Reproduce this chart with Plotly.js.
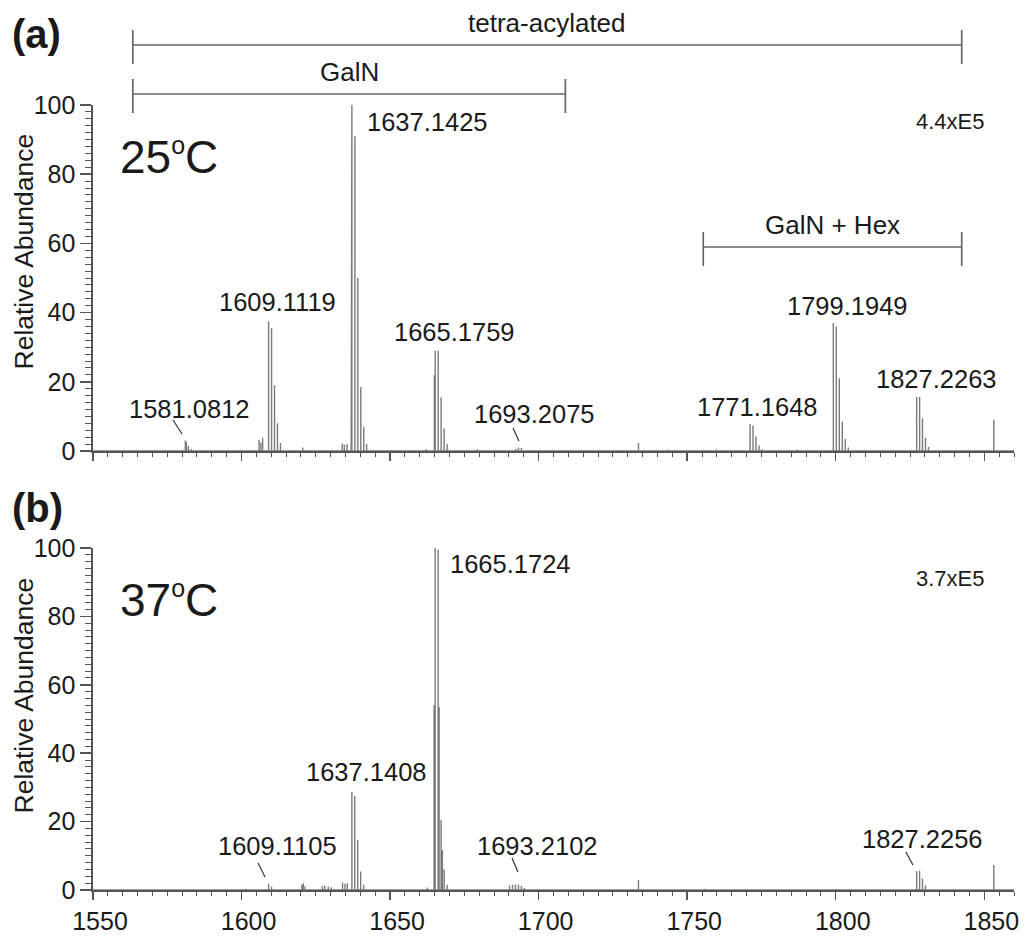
<!DOCTYPE html>
<html>
<head>
<meta charset="utf-8">
<script src="https://cdn.plot.ly/plotly-3.0.1.min.js"></script>
<style>html,body{margin:0;padding:0;background:#fff;}#chart{width:1025px;height:937px;}</style>
</head>
<body>
<div id="chart"></div>
<script>
// ---------------- DATA ----------------
// Panel (a) 25 °C : m/z of each stick and its relative abundance (%)
const mzA = [1581.08, 1581.4, 1582.1, 1583.1,
  1605.9, 1606.5, 1607.1,
  1609.11, 1610.11, 1611.1, 1612.1, 1613.1,
  1620.6,
  1633.9, 1634.6, 1635.5,
  1636.9, 1637.14, 1638.14, 1639.14, 1640.14, 1641.14, 1642.1,
  1662.2,
  1664.9, 1665.18, 1666.18, 1667.18, 1668.18, 1669.2,
  1679.4,
  1692.3, 1693.21, 1694.2,
  1733.6, 1743.6, 1760.0,
  1771.16, 1772.16, 1773.16, 1774.2, 1775.2,
  1787.0,
  1799.19, 1800.19, 1801.2, 1802.2, 1803.2, 1804.2,
  1827.23, 1828.23, 1829.2, 1830.2, 1831.2,
  1853.2];
const intA = [3.0, 2.6, 1.5, 0.6,
  3.2, 2.4, 3.8,
  37.5, 35.5, 19, 8, 2.3,
  1.0,
  2.2, 1.8, 2.0,
  73, 100, 91, 50, 18.5, 7, 2,
  0.6,
  22, 29, 29, 15.5, 6.5, 2,
  0.5,
  0.6, 1.0, 0.9,
  2.3, 0.4, 0.4,
  7.7, 7.4, 4.2, 1.6, 0.5,
  0.4,
  37, 36, 21, 8.5, 3.5, 1,
  15.6, 15.6, 9.5, 3.8, 1.2,
  9.0];

// Panel (b) 37 °C
const mzB = [1601.5,
  1609.11, 1610.1,
  1620.3, 1620.8, 1621.4,
  1627.2, 1628.0, 1629.2, 1630.2,
  1634.0, 1634.8, 1635.6,
  1637.14, 1638.1, 1639.1, 1640.1, 1641.1,
  1662.5,
  1664.8, 1665.17, 1666.17, 1666.5, 1667.17, 1667.6, 1668.2, 1669.2,
  1690.2, 1691.2, 1692.2, 1693.21, 1694.2, 1695.2,
  1733.6, 1756.0, 1800.0,
  1827.23, 1828.23, 1829.2, 1830.2,
  1853.2];
const intB = [0.4,
  1.8, 1.0,
  1.5, 2.0, 1.0,
  1.2, 1.3, 1.0, 0.8,
  2.2, 1.8, 2.0,
  28.7, 27.5, 14.6, 5.4, 1.5,
  0.7,
  54, 100, 99.5, 53.5, 20.5, 11.7, 6, 1.5,
  1.3, 1.5, 1.6, 1.6, 1.2, 0.6,
  2.9, 0.4, 0.3,
  5.5, 5.6, 3.3, 1.4,
  7.3];

// peak labels (m/z)
const labelsA = ['1581.0812', '1609.1119', '1637.1425', '1665.1759', '1693.2075', '1771.1648', '1799.1949', '1827.2263'];
const labelsB = ['1609.1105', '1637.1408', '1665.1724', '1693.2102', '1827.2256'];

// panel texts
const tempA = '25<sup><span style="font-size:25px">o</span></sup>C';
const tempB = '37<sup><span style="font-size:25px">o</span></sup>C';
const scaleA = '4.4xE5';
const scaleB = '3.7xE5';

// composition brackets (m/z span)
const bracketLabels = ['tetra-acylated', 'GalN', 'GalN + Hex'];
const bracketFrom = [1563.4, 1563.4, 1755.4];
const bracketTo = [1842.4, 1709.0, 1842.4];

const yTitle = 'Relative Abundance';

// ---------------- STYLE / LAYOUT ----------------
const W = 1025, H = 937;
const FONT = '"Liberation Sans", Arial, Helvetica, sans-serif';
const TXT = '#1a1a1a';
const AX = '#555555';
const STICK = '#7a7a7a';
const LABEL_SIZE = 25.5;
const py = p => 1 - p / H;

// label placement offsets (pixels) relative to the labelled peak top
const placeA = [
  {dx: 3.7, dy: 31.6, lead: [-12.3, 20.6, -3.3, 6.6]},
  {dx: 8.4, dy: 19.3},
  {dx: 13, dy: -17, left: true},
  {dx: 19.8, dy: 18.7},
  {dx: 16.5, dy: 33.5, lead: [-5.5, 19.5, 0.5, 6.5]},
  {dx: 7, dy: 17.4},
  {dx: 14.6, dy: 17},
  {dx: 20.3, dy: 18}
];
const placeB = [
  {dx: 8.4, dy: 37.8, lead: [-10.6, 20.8, -3.6, 6.8]},
  {dx: 15, dy: 19.8},
  {dx: 12.8, dy: -16, left: true},
  {dx: 19.5, dy: 38.5, lead: [-6.5, 26.5, -0.5, 12.5]},
  {dx: 6.3, dy: 32.2, lead: [-10.7, 19.2, -3.7, 6.2]}
];
const bracketY = [45, 94, 247];

function sticks(mz, it) {
  const idx = mz.map((m, i) => i).sort((a, b) => mz[a] - mz[b]);
  const x = [1550], y = [0];
  idx.forEach(i => { x.push(mz[i], mz[i], mz[i]); y.push(0, it[i], 0); });
  x.push(1860); y.push(0);
  return {x, y};
}
function peakTop(mz, it, m) {
  let best = 0;
  mz.forEach((v, i) => { if (Math.abs(v - m) <= 0.35 && it[i] > best) best = it[i]; });
  return best;
}

const sA = sticks(mzA, intA), sB = sticks(mzB, intB);
const traces = [
  {x: sA.x, y: sA.y, xaxis: 'x2', yaxis: 'y2', type: 'scatter', mode: 'lines',
   line: {color: STICK, width: 1.4}, hoverinfo: 'x+y'},
  {x: sB.x, y: sB.y, xaxis: 'x', yaxis: 'y', type: 'scatter', mode: 'lines',
   line: {color: STICK, width: 1.4}, hoverinfo: 'x+y'}
];

const annotations = [], shapes = [];
function addLabels(labels, place, mz, it, xr, yr) {
  labels.forEach((lab, i) => {
    const m = parseFloat(lab);
    const h = peakTop(mz, it, m);
    const p = place[i];
    annotations.push({text: lab, x: m, y: h, xref: xr, yref: yr, showarrow: false,
      xanchor: p.left ? 'left' : 'center', yanchor: 'middle', xshift: p.dx, yshift: p.dy,
      font: {size: LABEL_SIZE, color: TXT, family: FONT}});
    if (p.lead) {
      shapes.push({type: 'line', xref: xr, yref: yr, xsizemode: 'pixel', ysizemode: 'pixel',
        xanchor: m, yanchor: h, x0: p.lead[0], y0: p.lead[1], x1: p.lead[2], y1: p.lead[3],
        line: {color: '#333', width: 1.2}});
    }
  });
}
addLabels(labelsA, placeA, mzA, intA, 'x2', 'y2');
addLabels(labelsB, placeB, mzB, intB, 'x', 'y');

bracketLabels.forEach((lab, i) => {
  const yp = bracketY[i];
  const ln = {color: '#666', width: 1.7};
  shapes.push({type: 'line', xref: 'x2', yref: 'paper', x0: bracketFrom[i], x1: bracketTo[i], y0: py(yp), y1: py(yp), line: ln});
  shapes.push({type: 'line', xref: 'x2', yref: 'paper', x0: bracketFrom[i], x1: bracketFrom[i], y0: py(yp - 15), y1: py(yp + 19), line: ln});
  shapes.push({type: 'line', xref: 'x2', yref: 'paper', x0: bracketTo[i], x1: bracketTo[i], y0: py(yp - 15), y1: py(yp + 19), line: ln});
  annotations.push({text: lab, x: (bracketFrom[i] + bracketTo[i]) / 2, xref: 'x2', y: py(yp - 22), yref: 'paper',
    showarrow: false, xanchor: 'center', yanchor: 'middle', font: {size: 26, color: TXT, family: FONT}});
});

// panel tags, temperatures, scale factors, y titles
annotations.push(
  {text: '<b>(a)</b>', x: 10 / W, y: py(34), xref: 'paper', yref: 'paper', xanchor: 'left', yanchor: 'middle', showarrow: false, font: {size: 40, color: TXT, family: FONT}},
  {text: '<b>(b)</b>', x: 10 / W, y: py(508), xref: 'paper', yref: 'paper', xanchor: 'left', yanchor: 'middle', showarrow: false, font: {size: 40, color: TXT, family: FONT}},
  {text: tempA, x: 118 / W, y: py(157), xref: 'paper', yref: 'paper', xanchor: 'left', yanchor: 'middle', showarrow: false, font: {size: 46, color: TXT, family: FONT}},
  {text: tempB, x: 118 / W, y: py(600), xref: 'paper', yref: 'paper', xanchor: 'left', yanchor: 'middle', showarrow: false, font: {size: 46, color: TXT, family: FONT}},
  {text: scaleA, x: 987 / W, y: py(121), xref: 'paper', yref: 'paper', xanchor: 'right', yanchor: 'middle', showarrow: false, font: {size: 22, color: TXT, family: FONT}},
  {text: scaleB, x: 987 / W, y: py(578), xref: 'paper', yref: 'paper', xanchor: 'right', yanchor: 'middle', showarrow: false, font: {size: 22, color: TXT, family: FONT}},
  {text: yTitle, x: 23 / W, y: py(251.5), xref: 'paper', yref: 'paper', xanchor: 'center', yanchor: 'middle', textangle: -90, showarrow: false, font: {size: 26.5, color: TXT, family: FONT}},
  {text: yTitle, x: 23 / W, y: py(695.5), xref: 'paper', yref: 'paper', xanchor: 'center', yanchor: 'middle', textangle: -90, showarrow: false, font: {size: 26.5, color: TXT, family: FONT}}
);

const xBase = {
  domain: [93 / W, 1014 / W], range: [1550, 1860], tick0: 1550, dtick: 50,
  ticks: 'outside', ticklen: 8, tickwidth: 1.5, tickcolor: AX,
  showline: true, linecolor: AX, linewidth: 1.6, showgrid: false, zeroline: false,
  minor: {dtick: 5, tick0: 1550, ticks: 'outside', ticklen: 4, tickwidth: 1, tickcolor: AX, showgrid: false},
  tickfont: {size: 25, color: TXT, family: FONT}, fixedrange: true
};
const yBase = {
  range: [0, 100], tick0: 0, dtick: 20,
  ticks: 'outside', ticklen: 11, tickwidth: 1.5, tickcolor: AX,
  showline: true, linecolor: AX, linewidth: 1.6, showgrid: false, zeroline: false,
  minor: {dtick: 2, tick0: 0, ticks: 'outside', ticklen: 6, tickwidth: 1, tickcolor: AX, showgrid: false},
  tickfont: {size: 25, color: TXT, family: FONT}, fixedrange: true
};

const layout = {
  width: W, height: H, margin: {l: 0, r: 0, t: 0, b: 0},
  paper_bgcolor: '#ffffff', plot_bgcolor: 'rgba(0,0,0,0)', showlegend: false,
  font: {family: FONT, size: 24, color: TXT},
  xaxis: Object.assign({}, xBase, {anchor: 'y', ticklabelshift: 7}),
  yaxis: Object.assign({}, yBase, {anchor: 'x', domain: [1 - 890 / H, 1 - 548 / H]}),
  xaxis2: Object.assign({}, xBase, {anchor: 'y2', showticklabels: false}),
  yaxis2: Object.assign({}, yBase, {anchor: 'x2', domain: [1 - 451 / H, 1 - 105 / H]}),
  annotations: annotations,
  shapes: shapes
};

Plotly.newPlot('chart', traces, layout, {displayModeBar: false, staticPlot: true});
</script>
</body>
</html>
